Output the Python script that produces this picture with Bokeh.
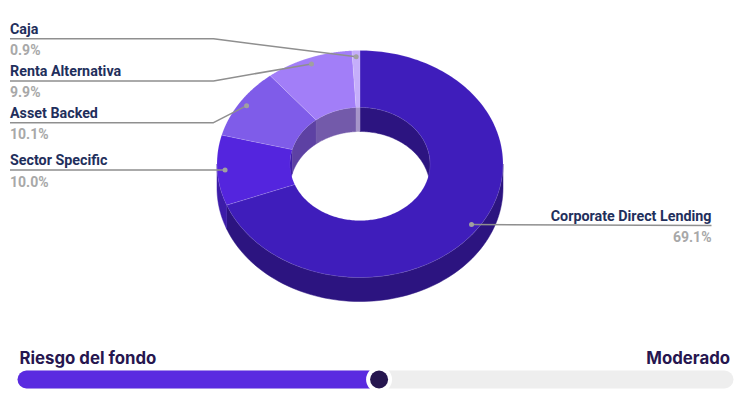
import numpy as np
from bokeh.plotting import figure
from bokeh.models import Range1d
from bokeh.core.properties import value
from bokeh.embed import file_html
from bokeh.resources import INLINE

names = ["Corporate Direct Lending", "Sector Specific", "Asset Backed", "Renta Alternativa", "Caja"]
shares = [69.1, 10.0, 10.1, 9.9, 0.9]
labels = ["69.1%", "10.0%", "10.1%", "9.9%", "0.9%"]
top_colors = ["#3f1dbb", "#5425de", "#7f5ce9", "#a27ef8", "#c5aefb"]
wall_colors = ["#2c1480", "#3c1ca8", "#5d41a3", "#735aaa", "#a695c9"]
risk_label = "Riesgo del fondo"
risk_name = "Moderado"
risk_value = 50.5

CX, CY, RX, RY, IRX, IRY, DEPTH = 359.5, 163.5, 143, 113.5, 70, 56.5, 24
LEFT_X, ELBOW_X, RIGHT_X = 9.5, 213, 711
BAR_L, BAR_R, BAR_Y = 17, 733, 379

p = figure(width=740, height=400, output_backend="svg", toolbar_location=None,
           x_range=Range1d(0, 740), y_range=Range1d(400, 0),
           min_border=0, outline_line_color=None)
p.xaxis.visible = False
p.yaxis.visible = False
p.grid.visible = False
p.background_fill_color = "white"
p.border_fill_color = "white"


def ell(th, rx, ry, dy=0):
    return CX + rx * np.sin(th), CY - ry * np.cos(th) + dy


edges = np.radians(np.concatenate([[0], np.cumsum(shares)]) / sum(shares) * 360)


def wall(a, b, rx, ry, color):
    if b <= a:
        return
    t = np.linspace(a, b, 80)
    x, y = ell(t, rx, ry)
    x2, y2 = ell(t[::-1], rx, ry, DEPTH)
    p.patch(np.concatenate([x, x2]), np.concatenate([y, y2]), fill_color=color, line_color=color, line_width=0.5)


for i, c in enumerate(wall_colors):
    a, b = edges[i], edges[i + 1]
    wall(max(a, np.pi / 2), min(b, 3 * np.pi / 2), RX, RY, c)
    wall(a, min(b, np.pi / 2), IRX, IRY, c)
    wall(max(a, 3 * np.pi / 2), b, IRX, IRY, c)

for i, c in enumerate(top_colors):
    t = np.linspace(edges[i], edges[i + 1], 200)
    ox, oy = ell(t, RX, RY)
    ix, iy = ell(t[::-1], IRX, IRY)
    p.patch(np.concatenate([ox, ix]), np.concatenate([oy, iy]), fill_color=c,
            line_color="#ffffff", line_alpha=0.18, line_width=0.7)

for i, (n, lab) in enumerate(zip(names, labels)):
    mid = (edges[i] + edges[i + 1]) / 2
    dx, dy = ell(mid, RX * 0.945, RY * 0.945)
    if i == 0:
        ly = dy + 1
        xs, ys = [RIGHT_X, dx], [ly, dy]
        tx, align = RIGHT_X, "right"
    else:
        ly = {1: dy, 2: dy + 17, 3: dy + 17, 4: dy - 18}[i]
        xs, ys = [LEFT_X, ELBOW_X, dx], [ly, ly, dy]
        tx, align = LEFT_X, "left"
    p.line(xs, ys, line_color="#8f8f8f", line_width=1.5)
    p.scatter([dx], [dy], size=5, marker="circle", fill_color="#a0a0a0", line_color=None)
    p.text([tx], [ly - 10], text=[n], text_font=value("Roboto"), text_font_size="14.3px",
           text_font_style="bold", text_color="#1f2f5c", text_align=align, text_baseline="middle")
    p.text([tx], [ly + 11.5], text=[lab], text_font=value("Roboto"), text_font_size="14px",
           text_font_style="bold", text_color="#a8a8a8", text_align=align, text_baseline="middle")

marker_x = BAR_L + (BAR_R - BAR_L) * risk_value / 100
p.line([BAR_L + 9, BAR_R - 9], [BAR_Y, BAR_Y], line_color="#eeeeee", line_width=18, line_cap="round")
p.line([BAR_L + 9, marker_x], [BAR_Y, BAR_Y], line_color="#5a2be0", line_width=18, line_cap="round")
p.scatter([marker_x], [BAR_Y], size=26, marker="circle", fill_color="white", line_color=None)
p.scatter([marker_x], [BAR_Y], size=18, marker="circle", fill_color="#26164f", line_color=None)
p.text([19], [357], text=[risk_label], text_font=value("Inter"), text_font_size="16.8px",
       text_font_style="bold", text_color="#26164f", text_align="left", text_baseline="middle")
p.text([729.5], [357], text=[risk_name], text_font=value("Inter"), text_font_size="16.8px",
       text_font_style="bold", text_color="#26164f", text_align="right", text_baseline="middle")

open("out.html", "w").write(file_html(p, INLINE))
